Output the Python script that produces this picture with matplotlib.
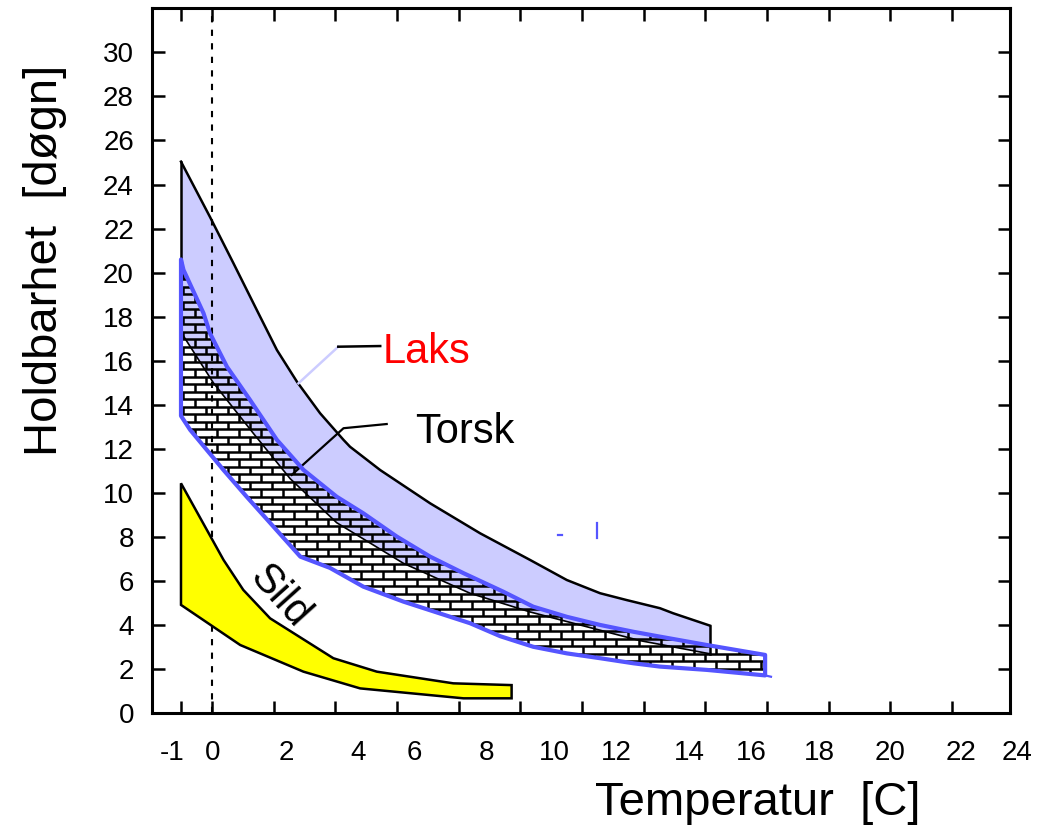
import numpy as np
import matplotlib
matplotlib.use('Agg')
import matplotlib.pyplot as plt
from matplotlib.patches import Polygon
from matplotlib.collections import LineCollection
import matplotlib.transforms as mtransforms

plt.rcParams['font.family'] = ['Liberation Sans', 'DejaVu Sans']

# --- data (temperatur [C], holdbarhet [døgn]) ---
# Sild (gul)
sild_top_t = [-1, 0.38, 1.02, 1.89, 3.94, 5.35, 7.83, 9.72]
sild_top_v = [10.44, 6.96, 5.6, 4.31, 2.50, 1.89, 1.36, 1.28]
sild_bot_t = [-1, 0.92, 2.97, 4.81, 8.16, 9.72]
sild_bot_v = [4.92, 3.10, 1.89, 1.13, 0.68, 0.68]

# Laks (lys blå)
laks_top_t = [-1, -0.06, 0.70, 1.51, 2.11, 2.76, 3.51, 4.27, 4.48, 5.46, 7.08,
              8.70, 10.32, 11.51, 12.59, 13.45, 14.53, 14.96, 16.15]
laks_top_v = [25.04, 22.53, 20.43, 18.16, 16.49, 15.05, 13.62, 12.41, 12.10,
              11.04, 9.53, 8.17, 6.96, 6.05, 5.45, 5.14, 4.77, 4.54, 3.98]
laks_bot_t = [-1, 0.05, 1.35, 2.54, 4.05, 6.21, 8.37, 10.32, 13.88, 16.15]
laks_bot_v = [17.3, 15.0, 12.7, 10.65, 8.65, 6.81, 5.45, 4.6, 3.3, 2.7]

# Torsk (murstein-skravur, blå kant)
torsk_top_t = [-1, -0.92, -0.27, -0.06, 0.16, 0.49, 1.24, 2.11, 2.97, 4.05, 4.91,
               6.0, 7.08, 8.16, 9.45, 10.42, 11.51, 12.59, 13.67, 14.53, 16.05, 17.94]
torsk_top_v = [20.6, 20.13, 18.16, 17.25, 16.64, 15.73, 14.22, 12.41, 11.05, 9.83,
               9.08, 8.02, 7.11, 6.36, 5.52, 4.84, 4.38, 4.01, 3.70, 3.48, 3.10, 2.65]
torsk_bot_t = [-1, -0.70, -0.16, 0.38, 1.13, 2.87, 3.83, 4.91, 6.21, 8.37, 9.35,
               10.42, 11.51, 12.59, 13.67, 14.53, 16.05, 17.94]
torsk_bot_v = [13.5, 12.86, 11.95, 11.04, 9.83, 7.11, 6.6, 5.75, 5.07, 4.09, 3.5,
               3.02, 2.72, 2.5, 2.27, 2.12, 1.97, 1.72]

# pekelinjer til etikettene
laks_lead_t = [2.81, 4.10, 5.46]
laks_lead_v = [14.98, 16.64, 16.67]
torsk_lead_t = [2.59, 4.27, 5.67]
torsk_lead_v = [10.82, 12.94, 13.13]

# små blå streker som står i originalen
stray_t = [[11.23, 11.35], [12.48, 12.48], [17.94, 18.13]]
stray_v = [[8.09, 8.09], [8.65, 7.94], [1.72, 1.66]]

x_ticks = [-1, 0, 2, 4, 6, 8, 10, 12, 14, 16, 18, 20, 22, 24]
x_tick_labels = ['-1', '0', '2', '4', '6', '8', '10', '12', '14', '16', '18', '20', '22', '24']
# labels in the original drift to the right of their tick marks
x_label_pos = [-1.29, 0.04, 2.41, 4.74, 6.56, 8.92, 11.1, 13.1, 15.5, 17.5, 19.7, 22.0, 24.3, 26.1]
y_ticks = list(range(0, 31, 2))

LAKS_FILL = '#CCCCFF'
TORSK_BLUE = '#5555FF'

fig = plt.figure(figsize=(10.43, 8.27), dpi=100)
ax = fig.add_axes([152/1043, 1 - 713.3/827, (1010-152)/1043, (713.3-8.3)/827])
ax.set_xlim(-1.94, 25.88)
ax.set_ylim(0, 32)

# Laks
laks_xy = list(zip(laks_top_t, laks_top_v)) + list(zip(laks_bot_t[::-1], laks_bot_v[::-1]))
ax.add_patch(Polygon(laks_xy, closed=True, facecolor=LAKS_FILL, edgecolor='none', zorder=1))
ax.plot(laks_top_t, laks_top_v, color='black', lw=1.8, zorder=4)
ax.plot([laks_top_t[0], laks_bot_t[0]], [laks_top_v[0], laks_bot_v[0]], color='black', lw=1.8, zorder=4)
ax.plot([laks_top_t[-1], laks_bot_t[-1]], [laks_top_v[-1], laks_bot_v[-1]], color='black', lw=1.8, zorder=4)
ax.plot(laks_bot_t, laks_bot_v, color='black', lw=1.2, zorder=4)

# 0-grader stiplet linje
ax.plot([0, 0], [0, 32], color='black', lw=1.5, ls=(0, (3, 3.5)), zorder=1.5)

# Sild
sild_xy = list(zip(sild_top_t, sild_top_v)) + list(zip(sild_bot_t[::-1], sild_bot_v[::-1]))
ax.add_patch(Polygon(sild_xy, closed=True, facecolor='#FFFF00', edgecolor='black',
                     lw=1.8, zorder=2))

# Torsk: murstein-skravur klippet til omrisset
torsk_xy = list(zip(torsk_top_t, torsk_top_v)) + list(zip(torsk_bot_t[::-1], torsk_bot_v[::-1]))
torsk_patch = Polygon(torsk_xy, closed=True, facecolor='none', edgecolor=TORSK_BLUE,
                      lw=3.0, joinstyle='round', zorder=5)
ax.add_patch(torsk_patch)

row_h = 0.34
brick_w = 0.72
segs = []
for i, yy in enumerate(np.arange(1.0, 21.5, row_h)):
    segs.append([(-2, yy), (19, yy)])
    off = (i % 2) * brick_w / 2
    for xx in np.arange(-2 + off, 19, brick_w):
        segs.append([(xx, yy), (xx, yy + row_h)])
bricks = LineCollection(segs, colors='black', linewidths=1.8, zorder=3)
ax.add_collection(bricks)
bricks.set_clip_path(torsk_patch)

# etiketter
ax.plot(laks_lead_t[:2], laks_lead_v[:2], color=LAKS_FILL, lw=1.8, zorder=4)
ax.plot(laks_lead_t[1:], laks_lead_v[1:], color='black', lw=1.8, zorder=4)
ax.plot(torsk_lead_t, torsk_lead_v, color='black', lw=1.6, zorder=4)
ax.text(5.55, 15.9, 'Laks', color='red', fontsize=30, ha='left', va='baseline')
ax.text(6.59, 12.28, 'Torsk', color='black', fontsize=30, ha='left', va='baseline')
ax.text(2.2, 5.3, 'Sild', color='black', fontsize=30, rotation=-48,
        ha='center', va='center', rotation_mode='anchor')

for st, sv in zip(stray_t, stray_v):
    ax.plot(st, sv, color=TORSK_BLUE, lw=1.6, zorder=4)

# akser
for sp in ax.spines.values():
    sp.set_linewidth(2.2)
ax.set_xticks(x_ticks)
ax.set_xticklabels([])
ax.set_yticks(y_ticks)
ax.tick_params(axis='both', direction='in', length=9, width=1.8, top=True, right=True)
ax.tick_params(axis='y', labelsize=20, pad=13)

trans = mtransforms.blended_transform_factory(ax.transData, ax.transAxes)
for pos, lab in zip(x_label_pos, x_tick_labels):
    ax.text(pos, -0.0660, lab, transform=trans, ha='center', va='baseline',
            fontsize=20, clip_on=False)

fig.text(757.5/1043, 1 - 815/827, 'Temperatur  [C]', fontsize=34, ha='center', va='baseline')
fig.text(45.5/1043, 1 - 260/827, 'Holdbarhet  [døgn]', fontsize=34, rotation=90,
         ha='center', va='center')

fig.savefig('out.png', dpi=100)
